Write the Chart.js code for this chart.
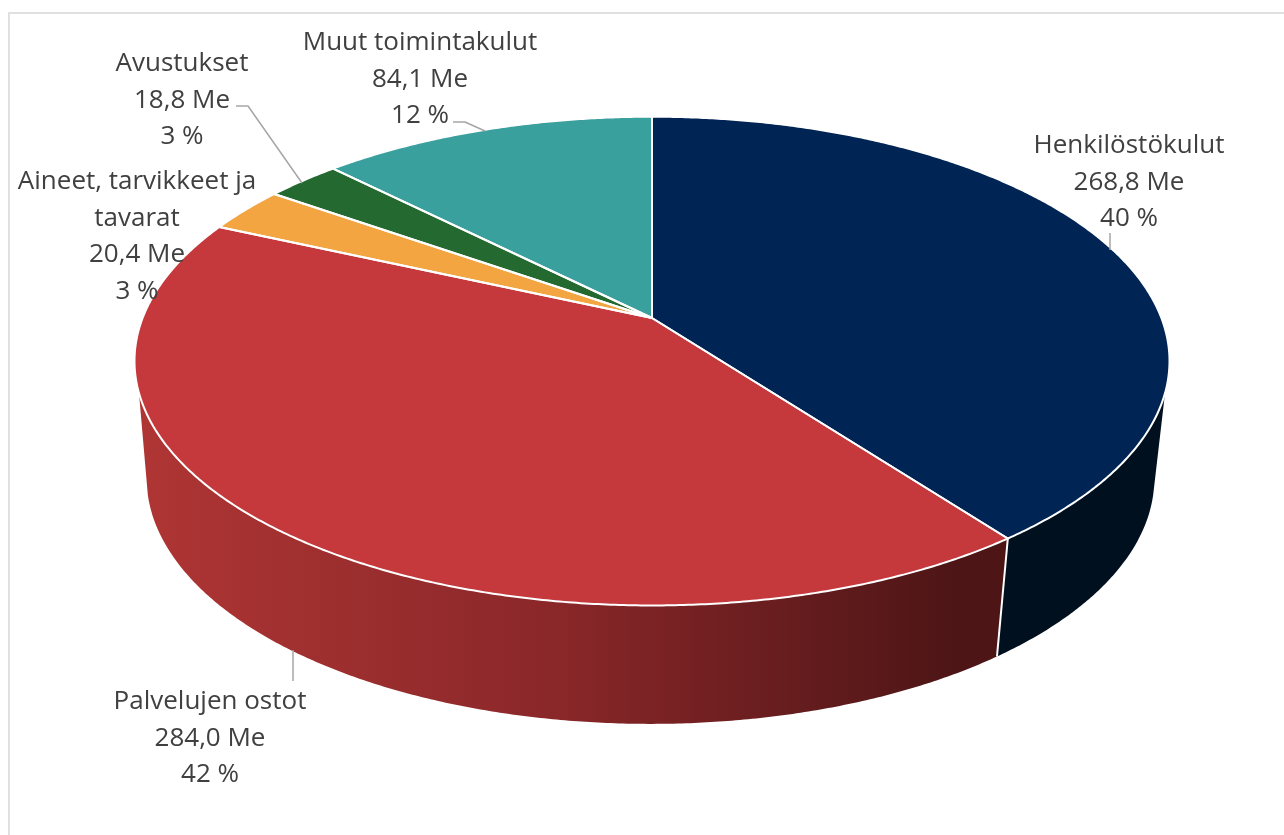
<!DOCTYPE html>
<html lang="fi">
<head>
<meta charset="utf-8">
<title>Kulut</title>
<script src="https://cdn.jsdelivr.net/npm/chart.js@4"></script>
<style>html,body{margin:0;padding:0;background:#fff;overflow:hidden}canvas{display:block}</style>
</head>
<body>
<canvas id="c" width="1284" height="835"></canvas>
<script>
// ---- data ----
const categories = ['Henkilöstökulut', 'Palvelujen ostot', 'Aineet, tarvikkeet ja tavarat', 'Avustukset', 'Muut toimintakulut'];
const valuesMe = [268.8, 284.0, 20.4, 18.8, 84.1];
const percents = [40, 42, 3, 3, 12];
const topColors = ['#002554', '#c5393c', '#f2a541', '#24692f', '#3aa09e'];

// ---- layout of the labels (centre x, first line y, wrapped name) ----
const labelLines = [['Henkilöstökulut'], ['Palvelujen ostot'], ['Aineet, tarvikkeet ja', 'tavarat'], ['Avustukset'], ['Muut toimintakulut']];
const labelAnchors = [[1129, 146], [210, 702], [137, 182], [182, 64], [420, 43]];
const leaders = [
  [[1110, 233], [1110, 250]],
  [[293, 650], [293, 681]],
  [],
  [[236, 106], [248, 106], [302, 183]],
  [[453, 122], [465, 122], [485, 131]]
];
const LINE_H = 36.4;

// ---- perspective of the disc ----
const K = 0.1762, TOP = {x: 652, y: 318, a: 509.4, b: 236.8}, BOT = {x: 650.5, y: 434.5, a: 496, b: 238.4};
const deg = Math.PI / 180;
function project(P, ang) {
  const u = Math.cos(ang), v = Math.sin(ang), w = 1 - K * v;
  return [P.x + P.a * u / w, P.y + P.b * v / w];
}
function arcPts(P, from, to) {
  const n = Math.max(2, Math.ceil(Math.abs(to - from) / (0.4 * deg)));
  const pts = [];
  for (let i = 0; i <= n; i++) pts.push(project(P, from + (to - from) * i / n));
  return pts;
}
function trace(ctx, pts, move) {
  pts.forEach((p, i) => (i === 0 && move) ? ctx.moveTo(p[0], p[1]) : ctx.lineTo(p[0], p[1]));
}

const disc3d = {
  id: 'disc3d',
  beforeDatasetDraw() { return false; },
  afterDatasetsDraw(chart) {
    const ctx = chart.ctx, arcs = chart.getDatasetMeta(0).data;
    ctx.save();
    // frame
    ctx.strokeStyle = '#e0e0e0'; ctx.lineWidth = 2;
    ctx.beginPath(); ctx.moveTo(9, 835); ctx.lineTo(9, 13); ctx.lineTo(1284, 13); ctx.stroke();

    // wall: visible only on the near side
    const redGrad = ctx.createLinearGradient(148, 0, 960, 0);
    redGrad.addColorStop(0, '#ae3534');
    redGrad.addColorStop(0.5, '#8a2729');
    redGrad.addColorStop(1, '#4d1516');
    const wallFill = {0: '#00101f', 1: redGrad};
    const tMin = 17.5 * deg, tMax = 162.5 * deg, bMin = 14 * deg, bMax = 166 * deg;
    arcs.forEach((el, i) => {
      if (!wallFill[i]) return;
      const s = el.startAngle, e = el.endAngle;
      ctx.beginPath();
      trace(ctx, arcPts(TOP, Math.max(s, tMin), Math.min(e, tMax)), true);
      trace(ctx, arcPts(BOT, Math.min(e, bMax), Math.max(s, bMin)), false);
      ctx.closePath();
      ctx.fillStyle = wallFill[i];
      ctx.fill();
    });
    // seam between the wall parts
    const seam = arcs[0].endAngle;
    const a = project(TOP, seam), b = project(BOT, seam);
    ctx.strokeStyle = '#fff'; ctx.lineWidth = 2;
    ctx.beginPath(); ctx.moveTo(a[0], a[1]); ctx.lineTo(b[0], b[1]); ctx.stroke();

    // top face
    arcs.forEach((el) => {
      ctx.beginPath();
      ctx.moveTo(TOP.x, TOP.y);
      trace(ctx, arcPts(TOP, el.startAngle, el.endAngle), false);
      ctx.closePath();
      ctx.fillStyle = el.options.backgroundColor;
      ctx.fill();
    });
    arcs.forEach((el) => {
      ctx.beginPath();
      ctx.moveTo(TOP.x, TOP.y);
      trace(ctx, arcPts(TOP, el.startAngle, el.endAngle), false);
      ctx.closePath();
      ctx.strokeStyle = '#fff'; ctx.lineWidth = 2; ctx.lineJoin = 'round';
      ctx.stroke();
    });

    // leaders
    ctx.strokeStyle = '#a6a6a6'; ctx.lineWidth = 1.5;
    leaders.forEach(l => {
      if (!l.length) return;
      ctx.beginPath();
      l.forEach((p, i) => i ? ctx.lineTo(p[0], p[1]) : ctx.moveTo(p[0], p[1]));
      ctx.stroke();
    });

    // labels
    ctx.fillStyle = '#404040';
    ctx.font = '26px "Open Sans"';
    ctx.textAlign = 'center'; ctx.textBaseline = 'middle';
    categories.forEach((c, i) => {
      const amount = valuesMe[i].toFixed(1).replace('.', ',') + ' Me';
      const lines = labelLines[i].concat([amount, percents[i] + ' %']);
      lines.forEach((t, j) => ctx.fillText(t, labelAnchors[i][0], labelAnchors[i][1] + j * LINE_H));
    });
    ctx.restore();
  }
};

new Chart(document.getElementById('c'), {
  type: 'pie',
  data: { labels: categories, datasets: [{ data: valuesMe, backgroundColor: topColors, borderColor: '#fff' }] },
  options: {
    responsive: false, devicePixelRatio: 1, animation: false,
    plugins: { legend: { display: false }, tooltip: { enabled: false } }
  },
  plugins: [disc3d]
});
</script>
</body>
</html>
